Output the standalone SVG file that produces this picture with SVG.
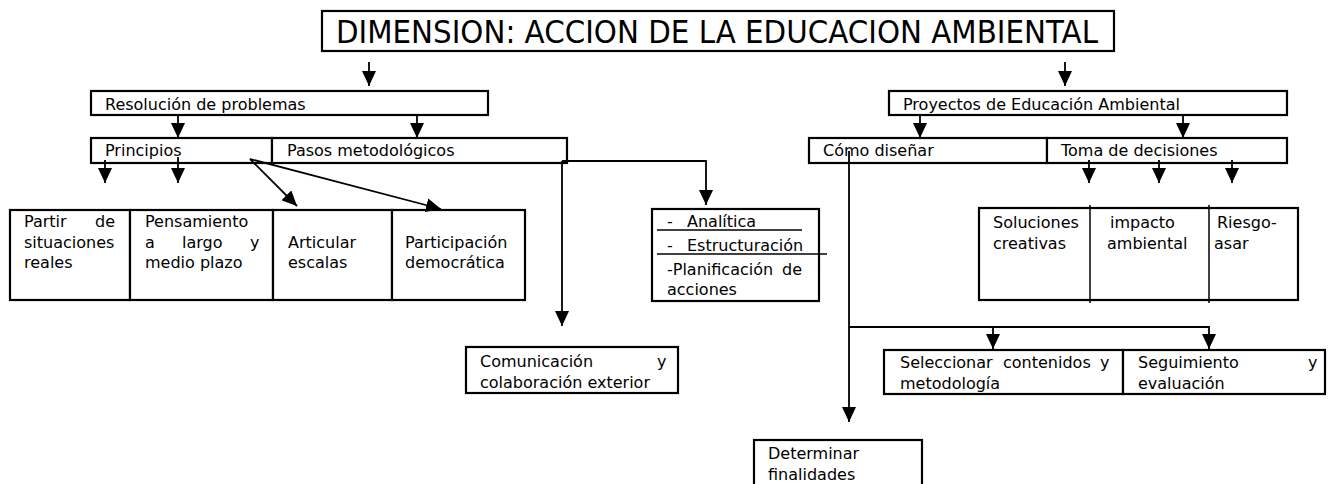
<svg xmlns="http://www.w3.org/2000/svg" width="1330" height="484" viewBox="0 0 1330 484">
<style>
  .box { fill: #fff; stroke: #000; stroke-width: 2.2; }
  .div { stroke: #000; stroke-width: 1.5; fill: none; }
  .t { font-family: "DejaVu Sans", "Liberation Sans", sans-serif; font-size: 16px; fill: #000; }
  .title { font-family: "DejaVu Sans", "Liberation Sans", sans-serif; font-size: 32px; fill: #000; }
  .ca { stroke: #000; stroke-width: 1.8; fill: none; marker-end: url(#ah); }
</style>
<defs>
  <marker id="ah" viewBox="0 0 15 14" markerUnits="userSpaceOnUse" markerWidth="15" markerHeight="14" refX="15" refY="7" orient="auto">
    <path d="M0,0 L15,7 L0,14 z" fill="#000"/>
  </marker>
</defs>
<rect width="1330" height="484" fill="#fff"/>

<g id="title">
  <rect class="box" x="322" y="11" width="792" height="40"/>
  <text class="title" x="336" y="43" textLength="762" lengthAdjust="spacingAndGlyphs">DIMENSION: ACCION DE LA EDUCACION AMBIENTAL</text>
</g>

<g id="resolucion">
  <rect class="box" x="91" y="91" width="397" height="24"/>
  <text class="t" x="105" y="110">Resolución de problemas</text>
</g>
<g id="principios">
  <rect class="box" x="91" y="138" width="181" height="25"/>
  <text class="t" x="105" y="156">Principios</text>
</g>
<g id="pasos">
  <rect class="box" x="272" y="138" width="295" height="25"/>
  <text class="t" x="287" y="156">Pasos metodológicos</text>
</g>

<g id="proyectos">
  <rect class="box" x="889" y="91" width="398" height="24"/>
  <text class="t" x="903" y="110">Proyectos de Educación Ambiental</text>
</g>
<g id="como">
  <rect class="box" x="809" y="138" width="238" height="25"/>
  <text class="t" x="823" y="156">Cómo diseñar</text>
</g>
<g id="toma">
  <rect class="box" x="1047" y="138" width="240" height="25"/>
  <text class="t" x="1061" y="156">Toma de decisiones</text>
</g>

<g id="partir">
  <rect class="box" x="10" y="210" width="120" height="90"/>
  <text class="t"><tspan x="24" y="227">Partir</tspan><tspan x="95" y="227">de</tspan><tspan x="24" y="248">situaciones</tspan><tspan x="24" y="268">reales</tspan></text>
</g>
<g id="pensamiento">
  <rect class="box" x="130" y="210" width="143" height="90"/>
  <text class="t"><tspan x="145" y="227">Pensamiento</tspan><tspan x="145" y="248">a</tspan><tspan x="182" y="248">largo</tspan><tspan x="250" y="248">y</tspan><tspan x="145" y="268">medio plazo</tspan></text>
</g>
<g id="articular">
  <rect class="box" x="273" y="210" width="119" height="90"/>
  <text class="t"><tspan x="288" y="248">Articular</tspan><tspan x="288" y="268">escalas</tspan></text>
</g>
<g id="participacion">
  <rect class="box" x="392" y="210" width="133" height="90"/>
  <text class="t"><tspan x="405" y="248">Participación</tspan><tspan x="405" y="268">democrática</tspan></text>
</g>

<g id="analitica">
  <rect class="box" x="652" y="209" width="167" height="92"/>
  <text class="t"><tspan x="667" y="227">-</tspan><tspan x="687" y="227">Analítica</tspan><tspan x="667" y="251">-</tspan><tspan x="687" y="251">Estructuración</tspan><tspan x="667" y="275">-Planificación</tspan><tspan x="782" y="275">de</tspan><tspan x="667" y="295">acciones</tspan></text>
  <line class="div" x1="657" y1="230" x2="802" y2="230"/>
  <line class="div" x1="657" y1="254" x2="827" y2="254"/>
</g>

<g id="comunicacion">
  <rect class="box" x="466" y="347" width="212" height="46"/>
  <text class="t"><tspan x="480" y="367">Comunicación</tspan><tspan x="657" y="367">y</tspan><tspan x="480" y="388">colaboración exterior</tspan></text>
</g>

<g id="soluciones">
  <rect class="box" x="979" y="208" width="319" height="92"/>
  <line class="div" x1="1090" y1="205" x2="1090" y2="303"/>
  <line class="div" x1="1209" y1="205" x2="1209" y2="303"/>
  <text class="t"><tspan x="993" y="228">Soluciones</tspan><tspan x="993" y="249">creativas</tspan></text>
  <text class="t"><tspan x="1110" y="228">impacto</tspan><tspan x="1107" y="249">ambiental</tspan></text>
  <text class="t"><tspan x="1217" y="228">Riesgo-</tspan><tspan x="1214" y="249">asar</tspan></text>
</g>

<g id="seleccionar">
  <rect class="box" x="884" y="350" width="239" height="44"/>
  <text class="t"><tspan x="900" y="368">Seleccionar</tspan><tspan x="1003" y="368">contenidos</tspan><tspan x="1100" y="368">y</tspan><tspan x="900" y="389">metodología</tspan></text>
</g>
<g id="seguimiento">
  <rect class="box" x="1123" y="350" width="202" height="44"/>
  <text class="t"><tspan x="1138" y="368">Seguimiento</tspan><tspan x="1308" y="368">y</tspan><tspan x="1138" y="389">evaluación</tspan></text>
</g>

<g id="determinar">
  <rect class="box" x="754" y="440" width="168" height="60"/>
  <text class="t"><tspan x="768" y="459">Determinar</tspan><tspan x="768" y="480">finalidades</tspan></text>
</g>

<g id="connectors">
  <line class="ca" x1="369" y1="62" x2="369" y2="86"/>
  <line class="ca" x1="1065" y1="62" x2="1065" y2="86"/>
  <line class="ca" x1="178" y1="116" x2="178" y2="138"/>
  <line class="ca" x1="417" y1="116" x2="417" y2="138"/>
  <line class="ca" x1="920" y1="116" x2="920" y2="138"/>
  <line class="ca" x1="1183" y1="116" x2="1183" y2="138"/>
  <line class="ca" x1="105" y1="160" x2="105" y2="183"/>
  <line class="ca" x1="178" y1="157" x2="178" y2="183"/>
  <line class="ca" x1="250" y1="159" x2="297" y2="206"/>
  <line class="ca" x1="250" y1="159" x2="441" y2="209"/>
  <path class="ca" d="M562,161 H706 V205"/>
  <line class="ca" x1="562" y1="161" x2="562" y2="326"/>
  <line class="ca" x1="849" y1="151" x2="849" y2="422"/>
  <path class="ca" d="M849,327 H1209 V349"/>
  <line class="ca" x1="993" y1="327" x2="993" y2="349"/>
  <line class="ca" x1="1089" y1="160" x2="1089" y2="183"/>
  <line class="ca" x1="1159" y1="160" x2="1159" y2="183"/>
  <line class="ca" x1="1232" y1="160" x2="1232" y2="183"/>
</g>
</svg>
